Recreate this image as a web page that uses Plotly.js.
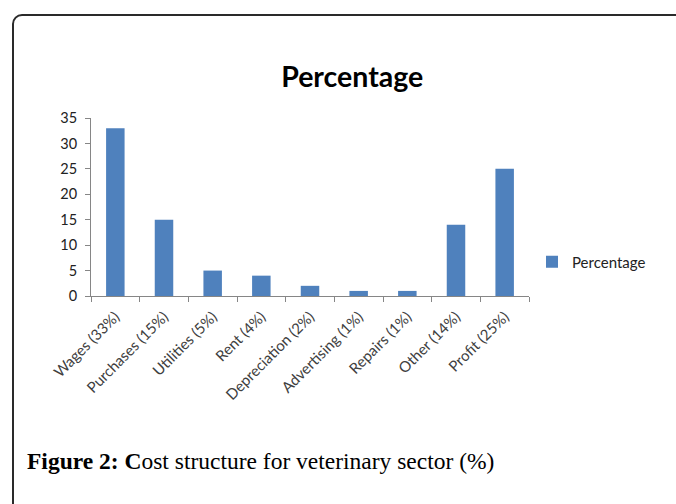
<!DOCTYPE html>
<html>
<head>
<meta charset="utf-8">
<script src="https://cdn.plot.ly/plotly-3.0.1.min.js"></script>
<style>
html, body { margin: 0; padding: 0; width: 676px; height: 504px; overflow: hidden; background: #fff; }
#chart { position: absolute; left: 0; top: 0; width: 676px; height: 504px; }
#frame { position: absolute; left: 12px; top: 14px; width: 720px; height: 600px; border: 2px solid #2a2a2a; border-radius: 10px; pointer-events: none; z-index: 10; }
</style>
</head>
<body>
<div id="chart"></div>
<div id="frame"></div>
<script>
const categories = ["Wages (33%)", "Purchases (15%)", "Utilities (5%)", "Rent (4%)", "Depreciation (2%)", "Advertising (1%)", "Repairs (1%)", "Other (14%)", "Profit (25%)"];
const percentage = [33, 15, 5, 4, 2, 1, 1, 14, 25];
const yTicks = [0, 5, 10, 15, 20, 25, 30, 35];
const seriesName = "Percentage";
const chartTitle = "Percentage";
const caption = "<b>Figure 2: C</b>ost structure for veterinary sector (%)";

const trace = {
  type: "bar",
  x: categories,
  y: percentage,
  name: seriesName,
  marker: { color: "#4F81BD" },
  hoverinfo: "x+y"
};

const layout = {
  width: 676,
  height: 504,
  margin: { l: 91, r: 147, t: 118, b: 208 },
  paper_bgcolor: "#ffffff",
  plot_bgcolor: "#ffffff",
  bargap: 0.62,
  showlegend: true,
  title: {
    text: "<b>" + chartTitle + "</b>",
    font: { family: "Lato, 'Open Sans', sans-serif", size: 28.5, color: "#000" },
    xref: "container", x: 0.521, xanchor: "center",
    yref: "container", y: 1 - 77 / 504, yanchor: "middle"
  },
  xaxis: {
    type: "category",
    showline: true, linecolor: "#868686", linewidth: 1,
    ticks: "outside", tickson: "boundaries", ticklen: 5, tickcolor: "#868686",
    tickangle: -45, ticklabelstandoff: 5,
    tickfont: { family: "Lato, 'Open Sans', sans-serif", size: 15, color: "#404040" },
    showgrid: false, zeroline: false
  },
  yaxis: {
    range: [0, 35],
    tickvals: yTicks,
    showline: true, linecolor: "#868686", linewidth: 1,
    ticks: "outside", ticklen: 5, tickcolor: "#868686", ticklabelstandoff: 5,
    tickfont: { family: "Lato, 'Open Sans', sans-serif", size: 14.5, color: "#222" },
    showgrid: false, zeroline: false
  },
  legend: {
    xref: "container", x: 532 / 676, xanchor: "left",
    yref: "container", y: 1 - 262 / 504, yanchor: "middle",
    font: { family: "Lato, 'Open Sans', sans-serif", size: 15, color: "#222" },
    bgcolor: "rgba(0,0,0,0)"
  },
  annotations: [{
    text: caption,
    xref: "paper", x: (25 - 91) / 438, xanchor: "left",
    yref: "paper", y: -(461 - 296) / 178, yanchor: "middle",
    showarrow: false,
    font: { family: "'Liberation Serif', serif", size: 23.5, color: "#000" }
  }]
};

Plotly.newPlot("chart", [trace], layout, { displayModeBar: false, staticPlot: true });
</script>
</body>
</html>
